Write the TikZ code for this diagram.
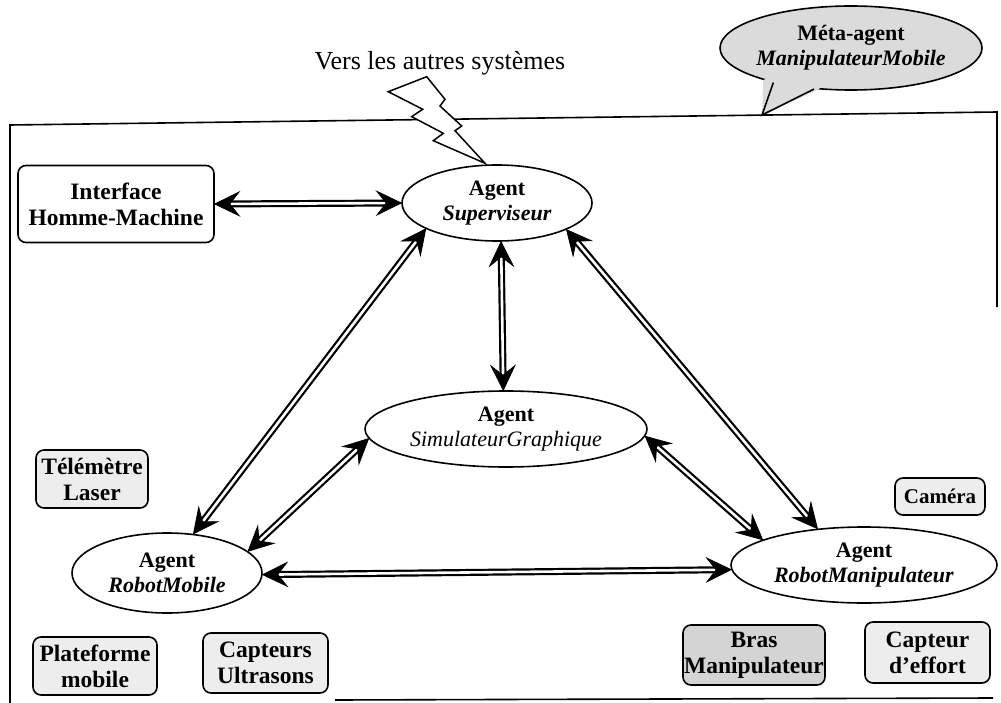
\documentclass[tikz,border=0pt]{standalone}
\usepackage{fontspec}
\setmainfont{Liberation Serif}
\usetikzlibrary{shapes.geometric,calc}
\begin{document}
\begin{tikzpicture}[x=1pt,y=-1pt,
  agent/.style={ellipse,draw,line width=1.6pt,inner sep=0pt,fill=white,
    align=center,font=\fontsize{22}{25}\selectfont},
  hw/.style={rectangle,rounded corners=8pt,draw,line width=1.6pt,inner sep=0pt,
    align=center,font=\fontsize{23.5}{26}\selectfont\bfseries},
  hwlight/.style={hw,fill=gray!14},
  hwdark/.style={hw,fill=gray!34},
  dline/.style={double=white,double distance=2.6pt,line width=2.2pt,
    shorten <=12pt,shorten >=12pt},
  headfill/.style={fill=black,draw=black,line width=0.8pt,line join=miter},
  frameline/.style={line width=1.6pt}
]
% canvas
\fill[white] (0,0) rectangle (1001,703);
\useasboundingbox (0,0) rectangle (1001,703);

% outer system frame
\draw[frameline] (997,307) -- (997,112) -- (10,125) -- (10,703);
\draw[frameline] (335,700) -- (993,698);

% label for the outgoing communication
\node[font=\fontsize{26}{29}\selectfont] (vers) at (440,63) {Vers les autres systèmes};

% lightning bolt towards other systems
\filldraw[fill=white,line width=1.5pt,line join=miter]
  (388.3,91.7) -- (426.7,76.7) -- (445,99.3) -- (440,106) -- (461.7,126)
  -- (455,130.7) -- (485,163.3) -- (433.3,140.7) -- (443.3,133.3)
  -- (411.7,116.7) -- (422.7,109.3) -- cycle;

% meta-agent callout
\node[ellipse,draw,line width=1.6pt,fill=gray!28,inner sep=0pt,
  minimum width=262pt,minimum height=84pt] (meta) at (851,48) {};
\coordinate (metatip) at (762,115);
\fill[gray!28] (meta.200) -- (metatip) -- (meta.232) -- (meta.center) -- cycle;
\draw[line width=1.6pt] (meta.204) -- (metatip) -- (meta.228.3);
\node[font=\fontsize{22}{25}\selectfont\bfseries,align=center] (metatext) at (meta.center)
  {Méta-agent\\\textit{ManipulateurMobile}};

% agents
\node[agent,minimum width=190pt,minimum height=76pt] (sup) at (497,203)
  {\textbf{Agent}\\\textbf{\textit{Superviseur}}};
\node[agent,minimum width=282pt,minimum height=76pt] (sim) at (506,429)
  {\textbf{Agent}\\\textit{SimulateurGraphique}};
\node[agent,minimum width=190pt,minimum height=80pt] (rm) at (167,573)
  {\textbf{Agent}\\\textbf{\textit{RobotMobile}}};
\node[agent,minimum width=266pt,minimum height=76pt] (rman) at (864,565)
  {\textbf{Agent}\\\textbf{\textit{RobotManipulateur}}};

% hardware and interface boxes
\node[hw,minimum width=196pt,minimum height=77pt] (ihm) at (116,204)
  {Interface\\Homme-Machine};
\node[hwlight,minimum width=112pt,minimum height=58pt] (tel) at (92,479)
  {Télémètre\\Laser};
\node[hwlight,minimum width=124pt,minimum height=58pt] (plat) at (95,666)
  {Plateforme\\mobile};
\node[hwlight,minimum width=125pt,minimum height=60pt] (us) at (265.5,663)
  {Capteurs\\Ultrasons};
\node[hwlight,minimum width=90pt,minimum height=37pt,
  font=\fontsize{21}{24}\selectfont\bfseries] (cam) at (940,496.5) {Caméra};
\node[hwdark,minimum width=142pt,minimum height=60pt] (bras) at (754,655)
  {Bras\\Manipulateur};
\node[hwlight,minimum width=125pt,minimum height=61pt] (eff) at (927.5,652.5)
  {Capteur\\d’effort};

% communication links: doubled shaft, then a notched solid head at each end
\foreach \a/\b in {ihm.east/sup.west, sup.200.8/rm.56.7, sup.-84/sim.94.5,
    sup.339.2/rman.142.9, sim.184/rm.15, sim.357.6/rman.166.2, rm.-1/rman.182}{
  \draw[dline] (\a) -- (\b);
  \filldraw[headfill] (\a) -- ($(\a)!27pt!26:(\b)$) -- ($(\a)!15pt!(\b)$)
    -- ($(\a)!27pt!-26:(\b)$) -- cycle;
  \filldraw[headfill] (\b) -- ($(\b)!27pt!26:(\a)$) -- ($(\b)!15pt!(\a)$)
    -- ($(\b)!27pt!-26:(\a)$) -- cycle;
}
\end{tikzpicture}
\end{document}
